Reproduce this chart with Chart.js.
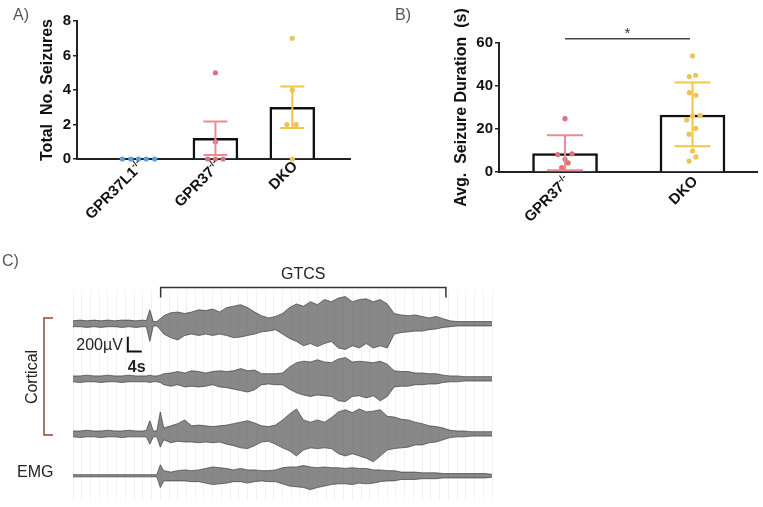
<!DOCTYPE html>
<html>
<head>
<meta charset="utf-8">
<script src="https://cdn.jsdelivr.net/npm/chart.js@4.4.0/dist/chart.umd.min.js"></script>
<style>
  body { margin: 0; background: #fff; }
  #wrap { position: relative; width: 763px; height: 507px; overflow: hidden; }
  canvas { position: absolute; }
  #chartA { left: 0; top: 0; }
  #chartB { left: 380px; top: 0; }
  #chartC { left: 0; top: 250px; }
  .tag { position: absolute; font: 16px "Liberation Sans", Arial, sans-serif; color: #555; }
</style>
</head>
<body>
<div id="wrap">
  <canvas id="chartA" width="365" height="240"></canvas>
  <canvas id="chartB" width="383" height="250"></canvas>
  <canvas id="chartC" width="763" height="257"></canvas>
  <div class="tag" style="left:13px;top:6px">A)</div>
  <div class="tag" style="left:395px;top:6px">B)</div>
  <div class="tag" style="left:2px;top:252px">C)</div>
</div>
<script>
const FONT = '"Liberation Sans", Arial, sans-serif';

// ---- Panel A: total no. of seizures ----
const groupsA = ['GPR37L1', 'GPR37', 'DKO'];
const supsA = ['-/-', '-/-', ''];
const meanA = [0, 1.2, 3.0];
const errLowA = [0, 0.23, 1.8];
const errHighA = [0, 2.17, 4.2];
const gpr37l1SeizA = [0, 0, 0, 0, 0];
const gpr37l1JitA = [-0.21, -0.1, 0, 0.1, 0.21];
const gpr37SeizA = [5, 1, 0, 0, 0];
const gpr37JitA = [0, 0, -0.1, 0, 0.1];
const dkoSeizA = [7, 4, 2, 2, 0];
const dkoJitA = [0, 0, -0.07, 0.05, 0];
const yTicksA = [0, 2, 4, 6, 8];

// ---- Panel B: avg seizure duration (s) ----
const groupsB = ['GPR37', 'DKO'];
const supsB = ['-/-', ''];
const meanB = [8.6, 26.5];
const errLowB = [0.8, 12];
const errHighB = [17.1, 41.6];
const gpr37DurB = [24.8, 8.1, 8.5, 5.9, 4.2, 2.0];
const gpr37JitB = [0, -0.057, 0.055, 0, 0.024, -0.026];
const dkoDurB = [54, 45, 44.4, 36.9, 35.7, 26.3, 26, 24.2, 20.3, 17.6, 9.8, 7, 5.1];
const dkoJitB = [0, 0.025, -0.025, -0.025, 0.027, 0.06, 0, -0.045, 0.025, -0.027, 0, 0.027, -0.027];
const yTicksB = [0, 20, 40, 60];

// ---- Panel C: trace envelopes (uV around each baseline), time in s ----
const timeC = [0,2,4,6,8,10,12,14,16,18,20, 21,22,23,24,25,26,
  28,30,32,34,36,38,40,42,44,46, 48,50,52,54,56,58,60,62,64,66,
  68,70,72,74,76,78,80,82,84,86, 88,90,92,94,96,98,100,102,104,106,
  108,110,112,114,116,118,120];
const ctx1Up = [40,50,40,50,40,50,40,50,50,40,50, 40,190,30,30,70,110,
  150,160,140,160,190,180,200,160,220,240, 260,220,160,110,80,100,140,220,270,240,
  300,260,330,300,350,370,300,330,340,300, 330,270,140,120,110,120,100,80,100,70,
  40,30,30,30,30,30,30];
const ctx1Lo = [-40,-40,-50,-40,-50,-40,-40,-50,-40,-50,-40, -40,-240,-30,-30,-80,-140,
  -190,-220,-160,-140,-160,-140,-160,-140,-160,-190, -180,-160,-140,-110,-100,-80,-140,-200,-240,-300,
  -270,-310,-270,-240,-330,-350,-300,-330,-270,-330, -300,-330,-140,-120,-110,-100,-100,-80,-70,-50,
  -40,-30,-30,-30,-30,-30,-30];
const ctx2Up = [40,40,50,40,40,50,40,40,50,40,40, 40,50,40,40,50,70,
  80,100,80,110,100,80,100,110,100,110, 140,110,120,70,70,70,80,160,220,240,
  230,260,230,220,270,290,230,240,230,220, 240,200,110,100,100,80,80,70,70,50,
  40,40,30,30,30,30,30];
const ctx2Lo = [-40,-50,-40,-40,-50,-40,-40,-50,-40,-40,-40, -40,-50,-40,-40,-50,-80,
  -100,-80,-110,-100,-110,-100,-80,-110,-120,-140, -160,-180,-150,-80,-70,-80,-80,-140,-190,-220,
  -240,-220,-230,-240,-300,-310,-240,-230,-260,-230, -300,-240,-110,-100,-100,-80,-80,-70,-70,-50,
  -40,-40,-30,-30,-30,-30,-30];
const ctx3Up = [40,40,50,40,40,50,40,40,50,40,40, 50,180,40,40,300,80,
  110,140,190,110,120,110,100,110,120,140, 160,180,150,110,100,120,190,270,340,190,
  160,190,160,220,300,330,290,340,300,310, 330,240,230,200,190,160,140,110,100,80,
  50,40,40,30,30,30,30];
const ctx3Lo = [-40,-50,-40,-40,-50,-40,-40,-50,-40,-40,-40, -40,-140,-40,-40,-180,-80,
  -120,-100,-110,-110,-120,-110,-120,-110,-140,-160, -190,-200,-160,-110,-100,-140,-190,-230,-300,-220,
  -190,-200,-190,-200,-270,-300,-270,-300,-330,-380, -300,-220,-200,-190,-180,-150,-150,-120,-110,-80,
  -50,-40,-40,-30,-30,-30,-30];
const emgUp = [15,15,15,15,15,15,15,15,15,15,15, 15,15,15,15,150,70,
  50,70,80,70,80,100,120,110,100,80, 100,80,80,70,70,80,110,120,120,140,
  120,110,120,110,110,100,110,100,100,80, 80,70,70,50,50,50,40,40,40,30,
  30,30,30,30,30,30,20];
const emgLo = [-15,-15,-15,-15,-15,-15,-15,-15,-15,-15,-15, -15,-15,-15,-15,-160,-70,
  -70,-70,-70,-80,-80,-100,-120,-110,-100,-80, -80,-100,-80,-70,-80,-80,-110,-140,-150,-160,
  -190,-160,-140,-120,-110,-110,-120,-100,-110,-100, -80,-70,-70,-50,-50,-50,-40,-40,-40,-30,
  -30,-30,-30,-30,-30,-30,-20];
const gtcsWindow = [25.1, 106.8];   // s
const scaleBarT = 15.7;             // s, left edge of the 4 s / 200 uV bar

// bar + scatter points for one group
function pts(vals, jit, centre) {
  return vals.map((v, i) => ({ x: centre + jit[i], y: v }));
}
function dotSet(vals, jit, centre, color) {
  return { type: 'scatter', data: pts(vals, jit, centre), pointRadius: 2.6,
    pointBackgroundColor: color, pointBorderWidth: 0, clip: false, order: 1 };
}

// error bars, rotated category labels, significance line
const groupDecor = {
  id: 'groupDecor',
  afterDatasetsDraw(chart, args, o) {
    const { ctx, scales: { x, y } } = chart;
    ctx.save();
    ctx.lineWidth = 2;
    o.lows.forEach((lo, i) => {
      if (o.highs[i] === lo) return;
      const px = x.getPixelForValue(i);
      const y1 = y.getPixelForValue(lo), y2 = y.getPixelForValue(o.highs[i]);
      const hw = o.capWidth / 2;
      ctx.strokeStyle = o.colors[i];
      ctx.beginPath();
      ctx.moveTo(px, y1); ctx.lineTo(px, y2);
      ctx.moveTo(px - hw, y1); ctx.lineTo(px + hw, y1);
      ctx.moveTo(px - hw, y2); ctx.lineTo(px + hw, y2);
      ctx.stroke();
    });
    ctx.restore();
  },
  afterDraw(chart, args, o) {
    const { ctx, chartArea, scales: { x, y } } = chart;
    ctx.save();
    ctx.fillStyle = '#111';
    o.labels.forEach((lab, i) => {
      ctx.save();
      ctx.translate(x.getPixelForValue(i) + o.labelDx, chartArea.bottom + o.labelDy);
      ctx.rotate(-Math.PI / 4);
      ctx.textBaseline = 'middle';
      ctx.textAlign = 'left';
      const sup = o.sups[i];
      ctx.font = 'bold ' + Math.round(o.fontSize * 0.6) + 'px ' + FONT;
      const supW = sup ? ctx.measureText(sup).width : 0;
      ctx.font = 'bold ' + o.fontSize + 'px ' + FONT;
      const mainW = ctx.measureText(lab).width;
      ctx.fillText(lab, -(mainW + supW), 0);
      if (sup) {
        ctx.font = 'bold ' + Math.round(o.fontSize * 0.6) + 'px ' + FONT;
        ctx.fillText(sup, -supW, -o.fontSize * 0.3);
      }
      ctx.restore();
    });
    if (o.sig) {
      const yy = y.getPixelForValue(o.sig.y);
      ctx.strokeStyle = '#444';
      ctx.lineWidth = 1.5;
      ctx.beginPath();
      ctx.moveTo(x.getPixelForValue(o.sig.from), yy);
      ctx.lineTo(x.getPixelForValue(o.sig.to), yy);
      ctx.stroke();
      ctx.fillStyle = '#333';
      ctx.font = '15px ' + FONT;
      ctx.textAlign = 'center';
      ctx.textBaseline = 'middle';
      ctx.fillText('*', x.getPixelForValue((o.sig.from + o.sig.to) / 2), yy - 5);
    }
    ctx.restore();
  }
};

function yAxis(min, max, tickVals, title, titlePad, width) {
  return {
    min: min, max: max,
    afterBuildTicks(s) { s.ticks = tickVals.map(v => ({ value: v })); },
    ticks: { font: { family: FONT, size: 15, weight: 'bold' }, color: '#111', padding: 2 },
    grid: { drawOnChartArea: false, tickLength: 4, color: '#222', lineWidth: 1.5 },
    border: { color: '#222', width: 2 },
    title: { display: true, text: title, color: '#111',
      font: { family: FONT, size: 16, weight: 'bold' }, padding: { top: titlePad, bottom: 0 } },
    afterFit(s) { s.width = width; }
  };
}
function xAxis(min, max, height) {
  return {
    type: 'linear', min: min, max: max, offset: false,
    ticks: { display: false }, grid: { display: false },
    border: { color: '#222', width: 2 },
    afterFit(s) { s.height = height; }
  };
}
const barStyle = { type: 'bar', backgroundColor: '#fff', borderColor: '#111',
  borderWidth: 2.5, order: 3 };

const blue = '#5b9ee0', pink = '#ee8a8e', pinkDot = '#e0707e', gold = '#f4c447', goldDot = '#f0c25a';

new Chart(document.getElementById('chartA'), {
  type: 'bar',
  data: {
    datasets: [
      Object.assign({ data: meanA.map((v, i) => ({ x: i, y: v })), barThickness: 45 }, barStyle),
      dotSet(gpr37l1SeizA, gpr37l1JitA, 0, blue),
      dotSet(gpr37SeizA, gpr37JitA, 1, pinkDot),
      dotSet(dkoSeizA, dkoJitA, 2, goldDot)
    ]
  },
  options: {
    responsive: false, animation: false,
    layout: { padding: { top: 21, right: 15, left: 0, bottom: 0 } },
    plugins: {
      legend: { display: false }, tooltip: { enabled: false },
      groupDecor: { lows: errLowA, highs: errHighA, colors: [blue, pink, gold], capWidth: 24,
        labels: groupsA, sups: supsA, fontSize: 15, labelDx: 3, labelDy: 5 }
    },
    scales: {
      x: xAxis(-0.8, 2.75, 81),
      y: yAxis(0, 8, yTicksA, 'Total  No. Seizures', 38, 77)
    }
  },
  plugins: [groupDecor]
});

new Chart(document.getElementById('chartB'), {
  type: 'bar',
  data: {
    datasets: [
      Object.assign({ data: meanB.map((v, i) => ({ x: i, y: v })), barThickness: 65 }, barStyle),
      dotSet(gpr37DurB, gpr37JitB, 0, pinkDot),
      dotSet(dkoDurB, dkoJitB, 1, goldDot)
    ]
  },
  options: {
    responsive: false, animation: false,
    layout: { padding: { top: 43, right: 6, left: 0, bottom: 0 } },
    plugins: {
      legend: { display: false }, tooltip: { enabled: false },
      groupDecor: { lows: errLowB, highs: errHighB, colors: [pink, gold], capWidth: 36,
        labels: groupsB, sups: supsB, fontSize: 15, labelDx: 3, labelDy: 7,
        sig: { from: 0, to: 0.98, y: 62 } }
    },
    scales: {
      x: xAxis(-0.518, 1.506, 78),
      y: yAxis(0, 60, yTicksB, 'Avg.  Seizure Duration  (s)', 72, 119)
    }
  },
  plugins: [groupDecor]
});

// ---- Panel C ----
const traces = [
  { up: ctx1Up, lo: ctx1Lo, base: 0 },
  { up: ctx2Up, lo: ctx2Lo, base: -750 },
  { up: ctx3Up, lo: ctx3Lo, base: -1500 },
  { up: emgUp, lo: emgLo, base: -2070 }
];
const traceSets = [];
traces.forEach(tr => {
  const line = { borderColor: 'rgba(50,50,50,0.8)', borderWidth: 0.8, pointRadius: 0, tension: 0 };
  traceSets.push(Object.assign({ data: timeC.map((t, i) => ({ x: t, y: tr.base + tr.up[i] })), fill: false }, line));
  traceSets.push(Object.assign({ data: timeC.map((t, i) => ({ x: t, y: tr.base + tr.lo[i] })),
    fill: '-1', backgroundColor: 'rgba(80,80,80,0.68)' }, line));
});

const traceDecor = {
  id: 'traceDecor',
  afterDraw(chart) {
    const { ctx, scales: { x, y } } = chart;
    ctx.save();
    ctx.strokeStyle = '#333';
    ctx.fillStyle = '#222';
    // GTCS bracket
    const gx1 = x.getPixelForValue(gtcsWindow[0]), gx2 = x.getPixelForValue(gtcsWindow[1]);
    ctx.lineWidth = 1.5;
    ctx.beginPath();
    ctx.moveTo(gx1, 47.5); ctx.lineTo(gx1, 37.5); ctx.lineTo(gx2, 37.5); ctx.lineTo(gx2, 47.5);
    ctx.stroke();
    ctx.font = '16px ' + FONT;
    ctx.textAlign = 'center';
    ctx.textBaseline = 'middle';
    ctx.fillText('GTCS', (gx1 + gx2) / 2, 25);
    // scale bar 200 uV / 4 s
    const sx = x.getPixelForValue(scaleBarT), sx2 = x.getPixelForValue(scaleBarT + 4);
    const sy1 = y.getPixelForValue(-177), sy2 = y.getPixelForValue(-377);
    ctx.strokeStyle = '#111';
    ctx.lineWidth = 2;
    ctx.beginPath();
    ctx.moveTo(sx, sy1); ctx.lineTo(sx, sy2); ctx.lineTo(sx2, sy2);
    ctx.stroke();
    ctx.textAlign = 'right';
    ctx.fillText('200\u00b5V', sx - 5, 96);
    ctx.font = 'bold 16px ' + FONT;
    ctx.textAlign = 'left';
    ctx.fillText('4s', sx, 118);
    // cortical bracket
    ctx.strokeStyle = '#8a4a35';
    ctx.lineWidth = 1.5;
    ctx.beginPath();
    ctx.moveTo(53, 68); ctx.lineTo(44, 68); ctx.lineTo(44, 185); ctx.lineTo(53, 185);
    ctx.stroke();
    ctx.font = '16px ' + FONT;
    ctx.save();
    ctx.translate(33, 127);
    ctx.rotate(-Math.PI / 2);
    ctx.textAlign = 'center';
    ctx.fillText('Cortical', 0, 0);
    ctx.restore();
    ctx.textAlign = 'left';
    ctx.fillText('EMG', 17, 223);
    ctx.restore();
  }
};

new Chart(document.getElementById('chartC'), {
  type: 'line',
  data: { datasets: traceSets },
  options: {
    responsive: false, animation: false,
    layout: { padding: { top: 40, bottom: 7, left: 73, right: 271 } },
    plugins: { legend: { display: false }, tooltip: { enabled: false } },
    scales: {
      x: { type: 'linear', min: 0, max: 120,
        ticks: { display: false, stepSize: 2.5 },
        grid: { color: 'rgba(0,0,0,0.05)', drawTicks: false },
        border: { display: false },
        afterFit(s) { s.height = 0; } },
      y: { display: false, min: -2400, max: 460 }
    }
  },
  plugins: [traceDecor]
});
</script>
</body>
</html>
